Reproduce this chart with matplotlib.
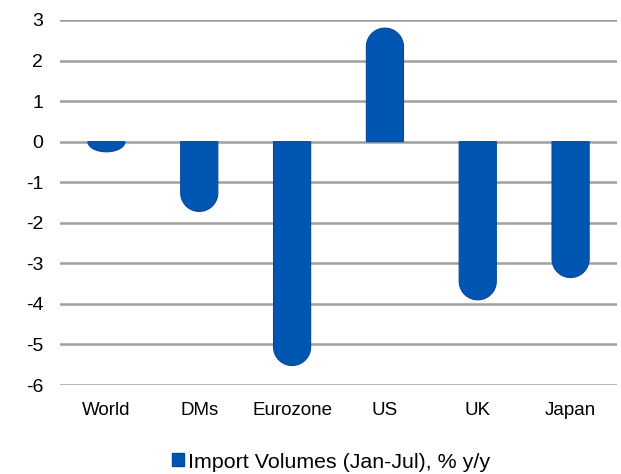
import numpy as np
import matplotlib.pyplot as plt
from matplotlib.patches import Polygon, Patch

plt.rcParams['font.family'] = ['Liberation Sans', 'DejaVu Sans']
plt.rcParams['axes.unicode_minus'] = False

# data
categories = ['World', 'DMs', 'Eurozone', 'US', 'UK', 'Japan']
values = [-0.25, -1.72, -5.52, 2.8, -3.9, -3.35]
series_name = 'Import Volumes (Jan-Jul), % y/y'

bar_color = '#0055B1'
edge_color = '#004A9C'
grid_color = '#A0A0A0'

W, H = 621, 474
fig = plt.figure(figsize=(W / 100, H / 100), dpi=100)
ax = fig.add_axes([60 / W, 1 - 385 / H, 557 / W, 365 / H])

x = np.arange(len(categories))
ax.set_xlim(-0.5, len(categories) - 0.5)
ax.set_ylim(-6, 3)
ax.set_yticks(np.arange(-6, 4, 1))
ax.set_xticks(x)
ax.set_xticklabels(categories)

for y in range(-6, 4):
    ax.axhline(y, color=grid_color, lw=1.8, zorder=1)

# plain bars first, then turn them into rounded "pill" bars
bars = ax.bar(x, values, width=0.4, color=bar_color, zorder=2)

px_per_x = 557 / len(categories)
px_per_y = 365 / 9
t = np.linspace(np.pi, 0, 40)
for b, v in zip(bars, values):
    b.set_visible(False)
    bx, bw = b.get_x(), b.get_width()
    # radius of half the bar width, in y data units
    r = bw / 2 * px_per_x / px_per_y
    ry = min(r, abs(v))
    s = np.sign(v)
    yc = v - s * ry
    cx = bx + bw / 2
    arc = np.column_stack([cx + bw / 2 * np.cos(t), yc + s * ry * np.sin(t)])
    pts = np.vstack([[bx, 0], arc, [bx + bw, 0]])
    ax.add_patch(Polygon(pts, closed=True, facecolor=bar_color,
                         edgecolor=edge_color, lw=0.8, zorder=3))

for sp in ax.spines.values():
    sp.set_visible(False)
ax.tick_params(axis='both', length=0, colors='black')
ax.tick_params(axis='y', pad=12, labelsize=14)
ax.tick_params(axis='x', pad=12, labelsize=13.5)

fig.legend(handles=[Patch(facecolor=bar_color, edgecolor=edge_color)],
           labels=[series_name], loc='center', bbox_to_anchor=(331 / W, 1 - 462 / H),
           frameon=False, fontsize=15.4, handlelength=0.55, handleheight=0.55,
           handletextpad=0.2)

fig.savefig('out.png', dpi=100)
